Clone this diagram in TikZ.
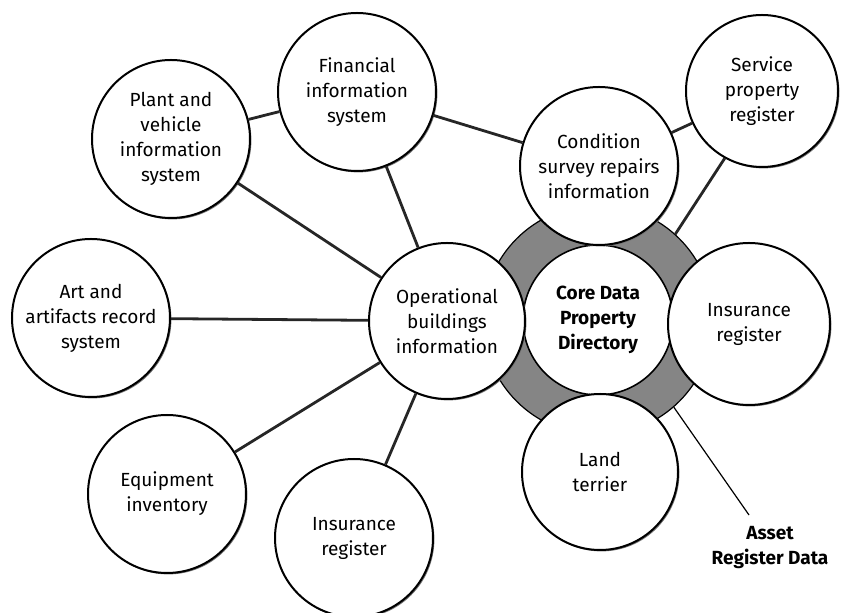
\documentclass[tikz,border=0pt]{standalone}
\usepackage{fontspec}
\setmainfont{Fira Sans}
\usetikzlibrary{shadows}
\tikzset{bubble/.style = {circle, draw, line width=1pt, fill=white, inner sep=0, minimum size=158pt*0.5, align=center,
    font=\fontsize{9.5}{12.5}\selectfont,
    drop shadow={shadow xshift=0.7pt, shadow yshift=-0.7pt, fill=black!55, opacity=1}}}
\tikzset{link/.style = {line width=1.4pt, black!85}}
\tikzset{ringbox/.style = {circle, draw, line width=0.6pt, fill=black!48, minimum size=115pt}}

\begin{document}
\begin{tikzpicture}[x=0.5pt, y=-0.5pt]
      \useasboundingbox (0, 0) rectangle (841, 613);
      % the asset register ring
      \node [ringbox] (ring) at (598, 320) {};
      \node [circle, draw, line width=0.8pt, fill=white, minimum size=75pt, align=center,
             font=\fontsize{9.5}{12.5}\selectfont\bfseries] (core) at (598, 320) {Core Data\\Property\\Directory};
      \node [bubble] (plant) at (171, 139) {Plant and\\vehicle\\information\\system};
      \node [bubble] (fin) at (357, 92) {Financial\\information\\system};
      \node [bubble] (cond) at (599, 166) {Condition\\survey repairs\\information};
      \node [bubble, minimum size=76pt] (serv) at (762, 91) {Service\\property\\register};
      \node [bubble] (art) at (91, 318) {Art and\\artifacts record\\system};
      \node [bubble, minimum size=78pt] (oper) at (447, 321) {Operational\\buildings\\information};
      \node [bubble, minimum size=81pt] (insr) at (749, 324) {Insurance\\register};
      \node [bubble, minimum size=78pt] (land) at (600, 472) {Land\\terrier};
      \node [bubble] (equip) at (167, 494) {Equipment\\inventory};
      \node [bubble] (insb) at (354, 538) {Insurance\\register};
      \draw [link] (plant) -- (fin);
      \draw [link] (plant) -- (oper);
      \draw [link] (fin) -- (oper);
      \draw [link] (fin) -- (cond);
      \draw [link] (art) -- (oper);
      \draw [link] (equip) -- (oper);
      \draw [link] (insb) -- (oper);
      \draw [link] (cond) -- (serv);
      \draw [link] (serv.241) -- (ring.48);
      % callout
      \node [align=center, font=\fontsize{9.5}{12.5}\selectfont\bfseries] (asset) at (770, 548) {Asset\\Register Data};
      \coordinate (tip) at (749, 515);
      \draw [line width=0.6pt] (ring.-49) -- (tip);
    \end{tikzpicture}
\end{document}
